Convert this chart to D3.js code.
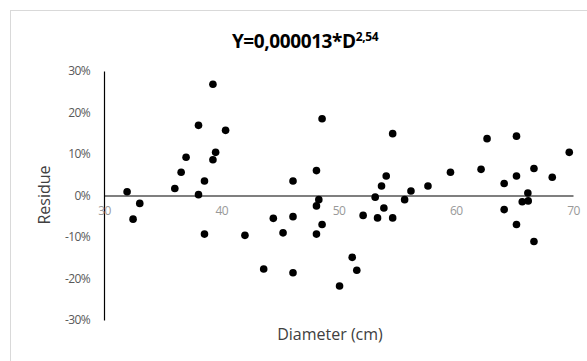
<html>
<head>
  <meta charset="utf-8">
  <title>residue plot</title>
</head>
<style>
  body {
    padding: 0em;
    margin: 0em;
    background: #fff;
  }
</style>
<body>
  <div id="chart"></div>
</body>
<script src="https://cdn.jsdelivr.net/npm/d3@7"></script>
<script>
  // diameter (cm) and residue of each tree
  const diameter = [31.97, 32.48, 33.05, 36.04, 36.58, 37.0, 38.06, 38.06, 38.57, 38.57,
    39.29, 39.52, 39.29, 40.37, 42.02, 43.62, 44.44, 45.27, 46.12, 46.12,
    46.12, 48.12, 48.32, 48.12, 48.6, 48.12, 48.6, 50.09, 51.17, 51.56,
    52.1, 53.13, 53.33, 53.87, 53.67, 54.07, 54.62, 54.62, 55.64, 56.18,
    57.63, 59.55, 62.16, 62.67, 64.13, 64.13, 65.18, 65.18, 65.18, 65.67,
    66.15, 66.18, 66.67, 66.67, 68.23, 69.68]
  const residue = [0.009, -0.057, -0.019, 0.017, 0.056, 0.092, 0.169, 0.002, 0.035, -0.093,
    0.086, 0.104, 0.268, 0.157, -0.096, -0.177, -0.055, -0.090, 0.035, -0.051,
    -0.186, 0.060, -0.010, -0.025, -0.070, -0.093, 0.185, -0.218, -0.149, -0.180,
    -0.048, -0.004, -0.054, -0.030, 0.023, 0.047, -0.054, 0.149, -0.010, 0.011,
    0.023, 0.056, 0.063, 0.137, 0.029, -0.034, 0.143, 0.047, -0.070, -0.015,
    0.006, -0.013, 0.065, -0.111, 0.044, 0.104]
  const xTicks = [30, 40, 50, 60, 70]
  const yTicks = [-0.3, -0.2, -0.1, 0, 0.1, 0.2, 0.3]

  const width = 587
  const height = 361
  const font = "'Open Sans', 'Noto Sans', sans-serif"

  const svg = d3.select("#chart").append("svg")
    .attr("width", width)
    .attr("height", height)
    .style("font-family", font)

  // chart area frame
  svg.append("rect")
    .attr("x", 10.5).attr("y", 10.5)
    .attr("width", 600).attr("height", 400)
    .attr("fill", "#fff")
    .attr("stroke", "#d9d9d9")

  const x = d3.scaleLinear().domain([30, 70]).range([104, 573])
  const y = d3.scaleLinear().domain([-0.3, 0.3]).range([320, 71])

  // y axis
  const yAxis = svg.append("g")
    .attr("transform", `translate(${x(30)},0)`)
    .call(d3.axisLeft(y).tickValues(yTicks).tickSize(0).tickPadding(14)
      .tickFormat(d => Math.round(d * 100) + "%"))
  yAxis.select(".domain").attr("stroke", "#000").attr("stroke-width", 1.2)
  yAxis.selectAll("text").attr("fill", "#595959").style("font-size", "12px")
    .style("font-family", font).style("letter-spacing", "-0.6px")

  // x axis along zero line
  const xAxis = svg.append("g")
    .attr("transform", `translate(0,${y(0)})`)
    .call(d3.axisBottom(x).tickValues(xTicks).tickSize(0).tickPadding(11))
  xAxis.select(".domain").attr("stroke", "#000").attr("stroke-width", 1.2)
  xAxis.selectAll("text").attr("fill", "#999").style("font-size", "12px")
    .style("font-family", font).style("letter-spacing", "-0.6px")

  // points
  svg.append("g").selectAll("circle")
    .data(diameter.map((d, i) => [d, residue[i]]))
    .join("circle")
    .attr("cx", d => x(d[0]))
    .attr("cy", d => y(d[1]))
    .attr("r", 3.8)
    .attr("fill", "#000")

  // title
  const title = svg.append("text")
    .attr("x", 305).attr("y", 48)
    .attr("text-anchor", "middle")
    .attr("fill", "#000")
    .style("font-size", "19px")
    .style("font-weight", "bold")
    .style("letter-spacing", "-0.4px")
  title.append("tspan").text("Y=0,000013*D")
  title.append("tspan").text("2,54")
    .attr("dy", -7).style("font-size", "12px")

  // axis titles
  svg.append("text")
    .attr("x", 330).attr("y", 340)
    .attr("text-anchor", "middle")
    .attr("fill", "#404040")
    .style("font-size", "16px")
    .text("Diameter (cm)")

  svg.append("text")
    .attr("transform", "translate(50,195) rotate(-90)")
    .attr("text-anchor", "middle")
    .attr("fill", "#404040")
    .style("font-size", "16px")
    .text("Residue")
</script>
</html>
